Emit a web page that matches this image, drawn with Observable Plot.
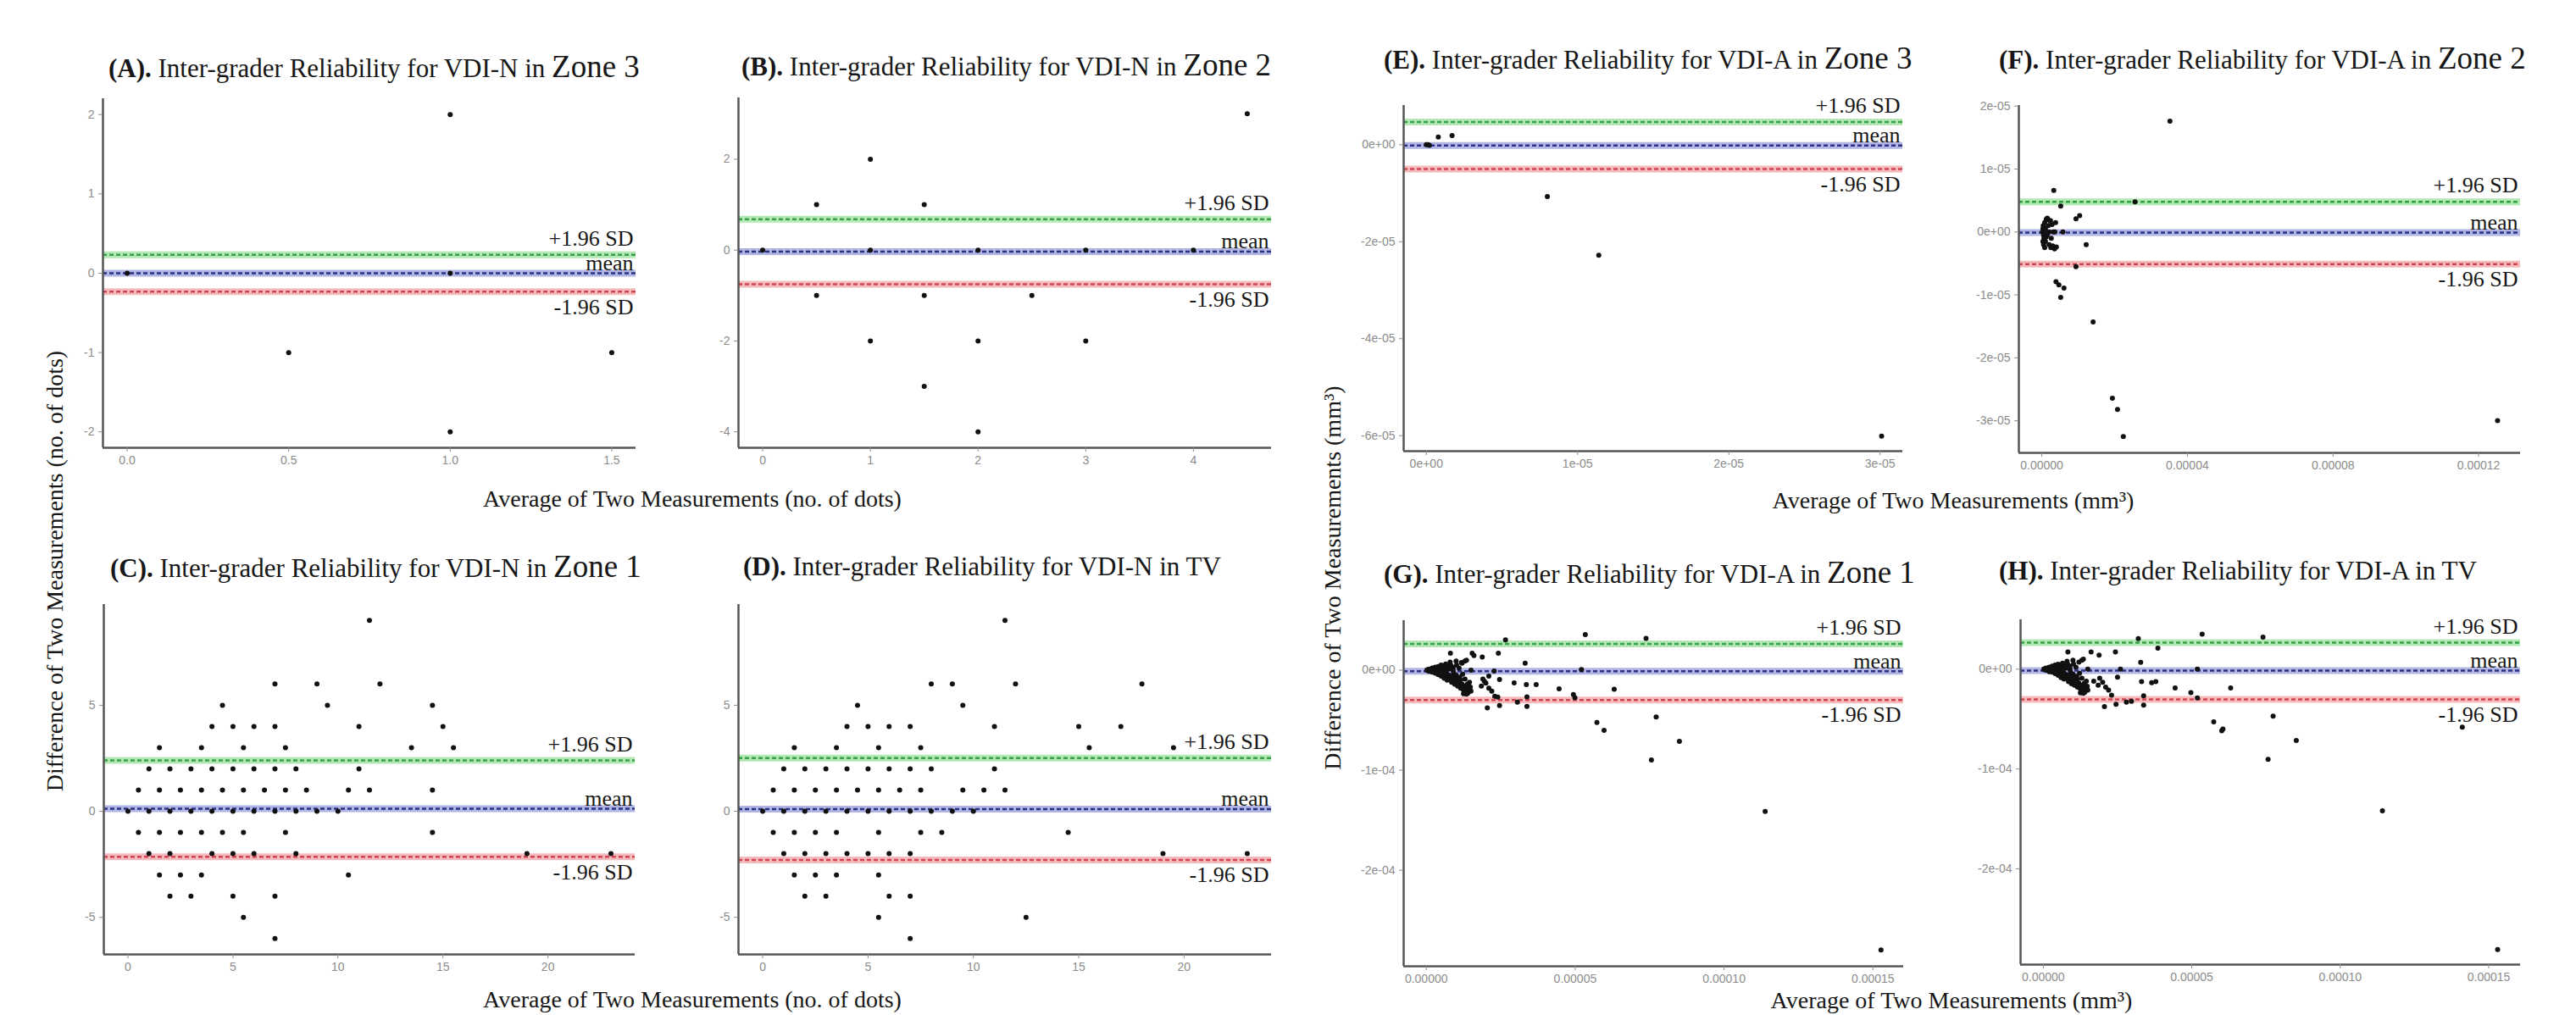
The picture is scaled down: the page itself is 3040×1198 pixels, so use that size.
<!DOCTYPE html>
<html>
<head>
<meta charset="utf-8">
<script src="https://cdn.jsdelivr.net/npm/d3@7"></script>
<script src="https://cdn.jsdelivr.net/npm/@observablehq/plot@0.6"></script>
<style>
  html, body { margin: 0; padding: 0; background: #fff; }
  #root { position: relative; width: 3040px; height: 1198px; overflow: hidden; background: #fff; font-family: "Liberation Serif", serif; color: #161616; }
  .title { position: absolute; font-size: 31px; white-space: nowrap; line-height: 1; transform: translateY(-50%); }
  .title b { font-weight: bold; }
  .title .z { font-size: 37px; }
  .axlab { position: absolute; font-size: 28px; white-space: nowrap; line-height: 1; transform: translate(-50%, -50%); }
  .axlab.rot { transform: translate(-50%, -50%) rotate(-90deg); }
  svg.panel { position: absolute; }
</style>
</head>
<body>
<div id="root"></div>
<script>
// ---------------- DATA ----------------
// (A) VDI-N Zone 3 : [average, difference]
const ptsA = [[0,0],[0.5,-1],[1,2],[1,0],[1,-2],[1.5,-1]];
const limA = [0.233, 0, -0.233];            // +1.96 SD, mean, -1.96 SD

// (B) VDI-N Zone 2
const ptsB = [[0,0],[0.5,1],[0.5,-1],[1,2],[1,0],[1,-2],[1.5,1],[1.5,-1],[1.5,-3],[2,0],[2,-2],[2,-4],[2.5,-1],[3,0],[3,-2],[4,0],[4.5,3]];
const limB = [0.68, -0.035, -0.75];

// (C) VDI-N Zone 1
const ptsC = [
  [11.5,9],
  [7,6],[9,6],[12,6],
  [4.5,5],[9.5,5],[14.5,5],
  [4,4],[5,4],[6,4],[7,4],[11,4],[15,4],
  [1.5,3],[3.5,3],[5.5,3],[7.5,3],[13.5,3],[15.5,3],
  [1,2],[2,2],[3,2],[4,2],[5,2],[6,2],[7,2],[8,2],[11,2],
  [0.5,1],[1.5,1],[2.5,1],[3.5,1],[4.5,1],[5.5,1],[6.5,1],[7.5,1],[8.5,1],[10.5,1],[11.5,1],[14.5,1],
  [0,0],[1,0],[2,0],[3,0],[4,0],[5,0],[6,0],[7,0],[8,0],[9,0],[10,0],
  [0.5,-1],[1.5,-1],[2.5,-1],[3.5,-1],[4.5,-1],[5.5,-1],[7.5,-1],[14.5,-1],
  [1,-2],[2,-2],[4,-2],[5,-2],[6,-2],[8,-2],[19,-2],[23,-2],
  [1.5,-3],[2.5,-3],[3.5,-3],[10.5,-3],
  [2,-4],[3,-4],[5,-4],[7,-4],
  [5.5,-5],
  [7,-6]
];
const limC = [2.40, 0.12, -2.15];

// (D) VDI-N TV
const ptsD = [
  [11.5,9],
  [8,6],[9,6],[12,6],[18,6],
  [4.5,5],[9.5,5],
  [4,4],[5,4],[6,4],[7,4],[11,4],[15,4],[17,4],
  [1.5,3],[3.5,3],[5.5,3],[7.5,3],[15.5,3],[19.5,3],
  [1,2],[2,2],[3,2],[4,2],[5,2],[6,2],[7,2],[8,2],[11,2],
  [0.5,1],[1.5,1],[2.5,1],[3.5,1],[4.5,1],[5.5,1],[6.5,1],[7.5,1],[9.5,1],[10.5,1],[11.5,1],
  [0,0],[1,0],[2,0],[3,0],[4,0],[5,0],[6,0],[7,0],[8,0],[9,0],[10,0],
  [0.5,-1],[1.5,-1],[2.5,-1],[3.5,-1],[5.5,-1],[7.5,-1],[8.5,-1],[14.5,-1],
  [1,-2],[2,-2],[3,-2],[4,-2],[5,-2],[6,-2],[7,-2],[19,-2],[23,-2],
  [1.5,-3],[2.5,-3],[3.5,-3],[5.5,-3],
  [2,-4],[3,-4],[6,-4],[7,-4],
  [5.5,-5],[12.5,-5],
  [7,-6]
];
const limD = [2.51, 0.10, -2.30];

// (E) VDI-A Zone 3 (mm³)
const ptsE = [[0,0],[0.01e-5,0],[0.02e-5,-0.01e-5],[0.079e-5,0.16e-5],[0.17e-5,0.19e-5],[0.80e-5,-1.07e-5],[1.14e-5,-2.28e-5],[3.01e-5,-6.01e-5]];
const limE = [0.47e-5, -0.015e-5, -0.50e-5];

// (F) VDI-A Zone 2 (mm³)
const ptsF = [
  [3.52e-5,1.76e-5],[0.33e-5,0.66e-5],[0.52e-5,0.41e-5],[2.56e-5,0.48e-5],[0.94e-5,0.21e-5],[1.04e-5,0.26e-5],
  [0.58e-5,0],[0.36e-5,0],[1.22e-5,-0.20e-5],[0.94e-5,-0.55e-5],[0.39e-5,-0.79e-5],[0.47e-5,-0.84e-5],
  [0.61e-5,-0.89e-5],[0.52e-5,-1.04e-5],[1.41e-5,-1.43e-5],[1.94e-5,-2.64e-5],[2.08e-5,-2.82e-5],[2.24e-5,-3.25e-5],
  [12.52e-5,-3.0e-5],
  [0.02e-5,0],[0.03e-5,0.05e-5],[0.05e-5,-0.05e-5],[0.04e-5,0.1e-5],[0.06e-5,-0.1e-5],[0.08e-5,0.15e-5],
  [0.1e-5,-0.15e-5],[0.12e-5,0.2e-5],[0.05e-5,-0.2e-5],[0.1e-5,0.05e-5],[0.15e-5,-0.05e-5],[0.18e-5,0.1e-5],
  [0.2e-5,-0.2e-5],[0.22e-5,0.18e-5],[0.25e-5,-0.25e-5],[0.28e-5,0.12e-5],[0.3e-5,-0.22e-5],[0.32e-5,0],
  [0.35e-5,-0.27e-5],[0.38e-5,0.15e-5],[0.4e-5,-0.24e-5],[0.15e-5,0.22e-5],[0.08e-5,-0.25e-5],[0.2e-5,0],
  [0.24e-5,0.18e-5],[0.16e-5,0.21e-5],[0.03e-5,-0.15e-5],[0.07e-5,0.02e-5],[0.12e-5,-0.08e-5],[0.26e-5,-0.1e-5]
];
const limF = [0.48e-5, -0.01e-5, -0.51e-5];

// (G) VDI-A Zone 1 (mm³)
const ptsG = [
  [2.66e-5,3.03e-5],[5.34e-5,3.56e-5],[7.38e-5,3.18e-5],[0.81e-5,1.68e-5],[1.54e-5,1.68e-5],[1.6e-5,1.45e-5],
  [1.88e-5,1.31e-5],[2.42e-5,1.68e-5],[1.18e-5,0.75e-5],[1.3e-5,0.9e-5],[3.32e-5,0.69e-5],[5.21e-5,0.06e-5],
  [2.28e-5,-0.09e-5],[2.46e-5,-0.94e-5],[2.95e-5,-1.28e-5],[3.36e-5,-1.44e-5],[3.69e-5,-1.44e-5],[4.46e-5,-1.87e-5],
  [4.94e-5,-2.43e-5],[4.99e-5,-2.75e-5],[6.31e-5,-1.90e-5],[2.05e-5,-3.78e-5],[2.46e-5,-3.53e-5],[2.4e-5,-2.7e-5],
  [3.06e-5,-3.21e-5],[3.38e-5,-3.62e-5],[3.38e-5,-2.68e-5],[7.72e-5,-4.68e-5],[5.73e-5,-5.24e-5],[5.97e-5,-6.02e-5],
  [8.50e-5,-7.11e-5],[7.56e-5,-8.99e-5],[11.38e-5,-14.13e-5],[15.27e-5,-27.96e-5],
  [1.9e-5,-0.9e-5],[2.0e-5,-1.3e-5],[1.85e-5,-1.6e-5],[2.1e-5,-1.8e-5],[2.2e-5,-2.1e-5],[2.3e-5,-2.6e-5],
  [1.95e-5,-1.1e-5],[2.1e-5,-0.6e-5],
  [0.02e-5,0],[0.05e-5,0.05e-5],[0.05e-5,-0.05e-5],[0.1e-5,0.1e-5],[0.1e-5,-0.1e-5],[0.15e-5,0],
  [0.2e-5,0.2e-5],[0.2e-5,-0.2e-5],[0.25e-5,0.05e-5],[0.3e-5,0.3e-5],[0.3e-5,-0.3e-5],[0.35e-5,-0.1e-5],
  [0.4e-5,0.35e-5],[0.4e-5,-0.45e-5],[0.45e-5,0.1e-5],[0.5e-5,0.5e-5],[0.5e-5,-0.6e-5],[0.55e-5,-0.2e-5],
  [0.6e-5,0.25e-5],[0.6e-5,-0.8e-5],[0.65e-5,0.6e-5],[0.7e-5,-0.4e-5],[0.7e-5,-1.0e-5],[0.75e-5,0.1e-5],
  [0.8e-5,0.8e-5],[0.8e-5,-0.7e-5],[0.85e-5,-1.2e-5],[0.9e-5,0.3e-5],[0.9e-5,-0.9e-5],[0.95e-5,-1.4e-5],
  [1.0e-5,0.9e-5],[1.0e-5,-0.5e-5],[1.05e-5,-1.6e-5],[1.1e-5,0.2e-5],[1.1e-5,-1.1e-5],[1.15e-5,-1.8e-5],
  [1.2e-5,0.7e-5],[1.2e-5,-1.4e-5],[1.25e-5,-2.0e-5],[1.3e-5,-0.9e-5],[1.3e-5,-2.2e-5],[1.35e-5,1.0e-5],
  [1.4e-5,-1.7e-5],[1.4e-5,-2.3e-5],[1.45e-5,-1.2e-5],[1.5e-5,-2.1e-5],[1.5e-5,0],[0.3e-5,0],[0.6e-5,0],[0.9e-5,0],
  [0.12e-5,0.05e-5],[0.18e-5,-0.1e-5],[0.22e-5,0.1e-5],[0.28e-5,-0.15e-5],[0.33e-5,0.15e-5],[0.38e-5,-0.3e-5],
  [0.42e-5,0.2e-5],[0.48e-5,-0.35e-5],[0.52e-5,0.3e-5],[0.58e-5,-0.5e-5],[0.62e-5,0.4e-5],[0.68e-5,-0.65e-5],
  [0.72e-5,0.3e-5],[0.78e-5,-0.9e-5],[0.82e-5,0.5e-5],[0.88e-5,-1.0e-5],[0.92e-5,-0.3e-5],[0.98e-5,-1.2e-5],
  [1.02e-5,0.5e-5],[1.08e-5,-1.3e-5],[1.12e-5,-0.7e-5],[1.18e-5,-1.7e-5],[1.22e-5,-0.4e-5],[1.28e-5,-1.6e-5],
  [1.32e-5,-1.9e-5],[1.38e-5,-1.4e-5],[1.42e-5,-2.0e-5],[1.48e-5,-1.7e-5],[1.35e-5,-2.4e-5],[1.25e-5,-2.35e-5],
  [0.65e-5,-0.3e-5],[0.75e-5,-0.5e-5],[0.85e-5,-0.6e-5],[0.95e-5,-0.8e-5],[1.05e-5,-0.9e-5],[1.15e-5,-1.0e-5],
  [0.45e-5,-0.25e-5],[0.55e-5,0.15e-5],[0.35e-5,0.2e-5],[0.15e-5,-0.12e-5]
];
const limG = [2.62e-5, -0.12e-5, -2.98e-5];

// (H) VDI-A TV (mm³)
const ptsH = [
  [3.20e-5,3.07e-5],[5.35e-5,3.51e-5],[7.40e-5,3.20e-5],[3.86e-5,2.10e-5],[0.83e-5,1.72e-5],[1.61e-5,1.72e-5],
  [1.88e-5,1.41e-5],[1.3e-5,0.9e-5],[1.2e-5,0.7e-5],[2.43e-5,1.72e-5],[3.28e-5,0.69e-5],[5.19e-5,0],
  [2.60e-5,0],[3.31e-5,-1.25e-5],[3.65e-5,-1.35e-5],[3.79e-5,-1.25e-5],[4.44e-5,-1.88e-5],[4.97e-5,-2.35e-5],
  [5.19e-5,-2.88e-5],[6.31e-5,-1.88e-5],[2.06e-5,-3.76e-5],[2.45e-5,-3.51e-5],[2.97e-5,-3.23e-5],[2.8e-5,-3.3e-5],
  [3.38e-5,-3.60e-5],[3.38e-5,-2.66e-5],[7.74e-5,-4.70e-5],[5.74e-5,-5.27e-5],[6.01e-5,-6.18e-5],[6.05e-5,-6.0e-5],
  [8.52e-5,-7.15e-5],[7.57e-5,-9.03e-5],[11.42e-5,-14.2e-5],[14.11e-5,-5.80e-5],[15.30e-5,-28.1e-5],
  [1.9e-5,-0.9e-5],[2.0e-5,-1.3e-5],[1.85e-5,-1.6e-5],[2.1e-5,-1.8e-5],[2.2e-5,-2.1e-5],[2.3e-5,-2.6e-5],
  [2.5e-5,-0.8e-5],[1.7e-5,-1.2e-5],
  [0.02e-5,0],[0.05e-5,0.05e-5],[0.05e-5,-0.05e-5],[0.1e-5,0.12e-5],[0.1e-5,-0.1e-5],[0.15e-5,0],
  [0.2e-5,0.2e-5],[0.2e-5,-0.25e-5],[0.25e-5,0.05e-5],[0.3e-5,0.3e-5],[0.3e-5,-0.3e-5],[0.35e-5,-0.1e-5],
  [0.4e-5,0.4e-5],[0.4e-5,-0.45e-5],[0.45e-5,0.1e-5],[0.5e-5,0.5e-5],[0.5e-5,-0.6e-5],[0.55e-5,-0.2e-5],
  [0.6e-5,0.25e-5],[0.6e-5,-0.85e-5],[0.65e-5,0.6e-5],[0.7e-5,-0.4e-5],[0.7e-5,-1.0e-5],[0.75e-5,0.1e-5],
  [0.8e-5,0.8e-5],[0.8e-5,-0.7e-5],[0.85e-5,-1.25e-5],[0.9e-5,0.3e-5],[0.9e-5,-0.9e-5],[0.95e-5,-1.45e-5],
  [1.0e-5,0.9e-5],[1.0e-5,-0.5e-5],[1.05e-5,-1.6e-5],[1.1e-5,0.2e-5],[1.1e-5,-1.1e-5],[1.15e-5,-1.8e-5],
  [1.2e-5,-1.4e-5],[1.25e-5,-2.0e-5],[1.3e-5,-0.9e-5],[1.3e-5,-2.2e-5],[1.35e-5,1.0e-5],
  [1.4e-5,-1.7e-5],[1.4e-5,-2.3e-5],[1.45e-5,-1.2e-5],[1.5e-5,-2.1e-5],[1.5e-5,0],[0.3e-5,0],[0.6e-5,0],[0.9e-5,0],
  [0.12e-5,0.06e-5],[0.18e-5,-0.12e-5],[0.22e-5,0.12e-5],[0.28e-5,-0.18e-5],[0.33e-5,0.16e-5],[0.38e-5,-0.32e-5],
  [0.42e-5,0.22e-5],[0.48e-5,-0.38e-5],[0.52e-5,0.32e-5],[0.58e-5,-0.52e-5],[0.62e-5,0.42e-5],[0.68e-5,-0.68e-5],
  [0.72e-5,0.32e-5],[0.78e-5,-0.92e-5],[0.82e-5,0.52e-5],[0.88e-5,-1.05e-5],[0.92e-5,-0.32e-5],[0.98e-5,-1.22e-5],
  [1.02e-5,0.52e-5],[1.08e-5,-1.32e-5],[1.12e-5,-0.72e-5],[1.18e-5,-1.72e-5],[1.22e-5,-0.42e-5],[1.28e-5,-1.62e-5],
  [1.32e-5,-1.92e-5],[1.38e-5,-1.42e-5],[1.42e-5,-2.02e-5],[1.48e-5,-1.72e-5],[1.35e-5,-2.42e-5],[1.25e-5,-2.38e-5],
  [0.65e-5,-0.32e-5],[0.75e-5,-0.52e-5],[0.85e-5,-0.62e-5],[0.95e-5,-0.82e-5],[1.05e-5,-0.92e-5],[1.15e-5,-1.02e-5],
  [0.45e-5,-0.26e-5],[0.55e-5,0.16e-5],[0.35e-5,0.22e-5],[0.15e-5,-0.13e-5]
];
const limH = [2.66e-5, -0.15e-5, -3.02e-5];

// Tick values and labels
const ticksA = {x:[0,0.5,1,1.5], xl:["0.0","0.5","1.0","1.5"], y:[-2,-1,0,1,2], yl:["-2","-1","0","1","2"]};
const ticksB = {x:[0,1,2,3,4], xl:["0","1","2","3","4"], y:[-4,-2,0,2], yl:["-4","-2","0","2"]};
const ticksCD = {x:[0,5,10,15,20], xl:["0","5","10","15","20"], y:[-5,0,5], yl:["-5","0","5"]};
const ticksE = {x:[0,1e-5,2e-5,3e-5], xl:["0e+00","1e-05","2e-05","3e-05"], y:[-6e-5,-4e-5,-2e-5,0], yl:["-6e-05","-4e-05","-2e-05","0e+00"]};
const ticksF = {x:[0,4e-5,8e-5,1.2e-4], xl:["0.00000","0.00004","0.00008","0.00012"], y:[-3e-5,-2e-5,-1e-5,0,1e-5,2e-5], yl:["-3e-05","-2e-05","-1e-05","0e+00","1e-05","2e-05"]};
const ticksGH = {x:[0,5e-5,1e-4,1.5e-4], xl:["0.00000","0.00005","0.00010","0.00015"], y:[-2e-4,-1e-4,0], yl:["-2e-04","-1e-04","0e+00"]};

const limitLabels = ["+1.96 SD", "mean", "-1.96 SD"];

// ---------------- LAYOUT ----------------
const root = document.getElementById("root");
const SERIF = "Liberation Serif, serif";
const SANS = "Liberation Sans, Arial, sans-serif";
const lineStyles = [
  {band: "#a3e4a6", dash: "#37a046"},   // +1.96 SD
  {band: "#a3a8de", dash: "#2b3282"},   // mean
  {band: "#f3aeb0", dash: "#cf4553"}    // -1.96 SD
];

function makePanel(p) {
  const [L, T, R, B] = p.frame;
  const mL = 90, mR = 12, mT = 12, mB = 40;
  const t = p.ticks;
  const marks = [];
  p.lim.forEach((v, i) => {
    marks.push(Plot.ruleY([v], {stroke: lineStyles[i].band, strokeWidth: 8, strokeOpacity: 0.85}));
    marks.push(Plot.ruleY([v], {stroke: lineStyles[i].dash, strokeWidth: 2.5, strokeDasharray: "5,3"}));
  });
  marks.push(Plot.ruleX([p.xd[0]], {stroke: "#555", strokeWidth: 2.5}));
  marks.push(Plot.ruleY([p.yd[0]], {stroke: "#555", strokeWidth: 2.5}));
  marks.push(Plot.axisX(t.x, {anchor: "bottom", tickSize: 5, tickPadding: 5, fontSize: 14, fontFamily: SANS, color: "#8c8c8c", label: null,
    tickFormat: d => t.xl[t.x.indexOf(d)]}));
  marks.push(Plot.axisY(t.y, {anchor: "left", tickSize: 5, tickPadding: 5, fontSize: 14, fontFamily: SANS, color: "#8c8c8c", label: null,
    tickFormat: d => t.yl[t.y.indexOf(d)]}));
  marks.push(Plot.dot(p.pts, {x: d => d[0], y: d => d[1], r: 3, fill: "#111", stroke: "none"}));
  const dys = [-19, -12, 18];
  p.lim.forEach((v, i) => {
    marks.push(Plot.text([v], {y: d => d, text: () => limitLabels[i], frameAnchor: "right", textAnchor: "end",
      dx: -3, dy: dys[i], fontSize: 26, fontFamily: SERIF, fill: "#161616"}));
  });
  const svg = Plot.plot({
    width: R - L + mL + mR,
    height: B - T + mT + mB,
    marginLeft: mL, marginRight: mR, marginTop: mT, marginBottom: mB,
    style: {background: "none", overflow: "visible"},
    x: {domain: p.xd},
    y: {domain: p.yd},
    marks
  });
  svg.classList.add("panel");
  svg.style.left = (L - mL) + "px";
  svg.style.top = (T - mT) + "px";
  root.appendChild(svg);
}

function addTitle(letter, body, zone, x, y) {
  const d = document.createElement("div");
  d.className = "title";
  d.style.left = x + "px";
  d.style.top = y + "px";
  d.innerHTML = `<b>(${letter}).</b> ${body}` + (zone ? `<span class="z">${zone}</span>` : "");
  root.appendChild(d);
}

function addAxisLabel(text, x, y, rot) {
  const d = document.createElement("div");
  d.className = "axlab" + (rot ? " rot" : "");
  d.style.left = x + "px";
  d.style.top = y + "px";
  d.innerHTML = text;
  root.appendChild(d);
}

makePanel({pts: ptsA, lim: limA, ticks: ticksA, frame: [121, 116, 750, 528], xd: [-0.075, 1.575], yd: [-2.2, 2.2]});
makePanel({pts: ptsB, lim: limB, ticks: ticksB, frame: [871, 115, 1500, 528], xd: [-0.225, 4.725], yd: [-4.35, 3.35]});
makePanel({pts: ptsC, lim: limC, ticks: ticksCD, frame: [122, 713, 749, 1126], xd: [-1.15, 24.15], yd: [-6.75, 9.75]});
makePanel({pts: ptsD, lim: limD, ticks: ticksCD, frame: [871, 713, 1500, 1126], xd: [-1.15, 24.15], yd: [-6.75, 9.75]});
makePanel({pts: ptsE, lim: limE, ticks: ticksE, frame: [1656, 124, 2245, 532], xd: [-0.15e-5, 3.15e-5], yd: [-6.32e-5, 0.81e-5]});
makePanel({pts: ptsF, lim: limF, ticks: ticksF, frame: [2382, 124, 2974, 534], xd: [-0.63e-5, 13.15e-5], yd: [-3.51e-5, 2.01e-5]});
makePanel({pts: ptsG, lim: limG, ticks: ticksGH, frame: [1656, 732, 2246, 1140], xd: [-0.76e-5, 16.03e-5], yd: [-29.6e-5, 4.95e-5]});
makePanel({pts: ptsH, lim: limH, ticks: ticksGH, frame: [2384, 731, 2974, 1138], xd: [-0.765e-5, 16.07e-5], yd: [-29.6e-5, 4.95e-5]});

addTitle("A", "Inter-grader Reliability for VDI-N in ", "Zone 3", 128, 78);
addTitle("B", "Inter-grader Reliability for VDI-N in ", "Zone 2", 875, 76);
addTitle("C", "Inter-grader Reliability for VDI-N in ", "Zone 1", 130, 668);
addTitle("D", "Inter-grader Reliability for VDI-N in TV", "", 877, 668);
addTitle("E", "Inter-grader Reliability for VDI-A in ", "Zone 3", 1633, 68);
addTitle("F", "Inter-grader Reliability for VDI-A in ", "Zone 2", 2359, 68);
addTitle("G", "Inter-grader Reliability for VDI-A in ", "Zone 1", 1633, 675);
addTitle("H", "Inter-grader Reliability for VDI-A in TV", "", 2359, 673);

addAxisLabel("Average of Two Measurements (no. of dots)", 817, 589, false);
addAxisLabel("Average of Two Measurements (no. of dots)", 817, 1180, false);
addAxisLabel("Average of Two Measurements (mm³)", 2305, 591, false);
addAxisLabel("Average of Two Measurements (mm³)", 2303, 1181, false);
addAxisLabel("Difference of Two Measurements (no. of dots)", 65, 674, true);
addAxisLabel("Difference of Two Measurements (mm³)", 1573, 682, true);
</script>
</body>
</html>
